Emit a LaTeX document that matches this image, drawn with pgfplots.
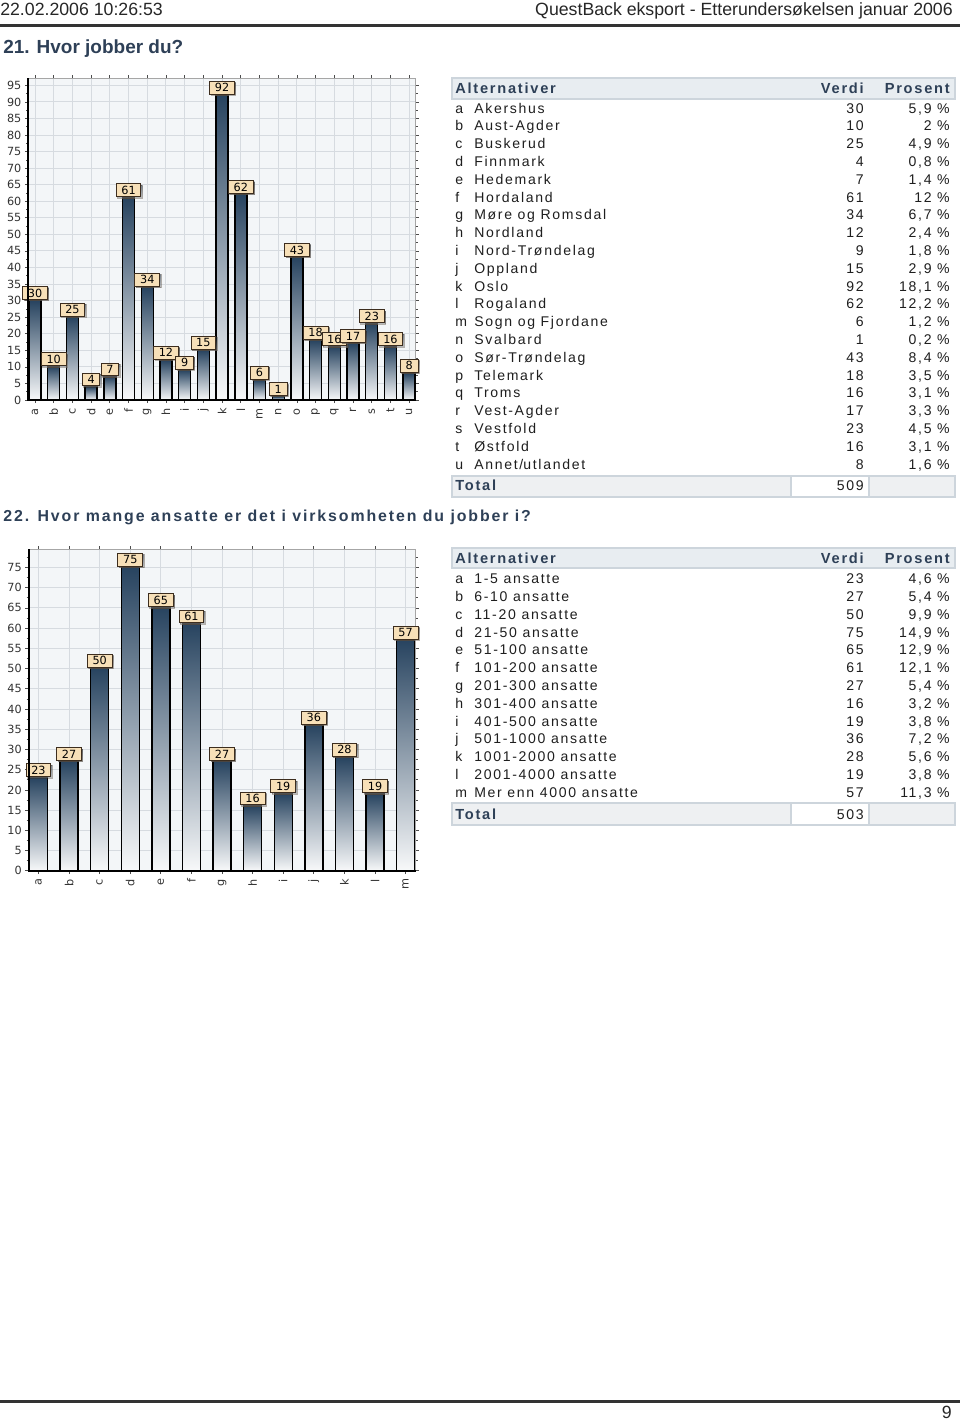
\documentclass[border=0pt]{standalone}
\usepackage{pgfplots}
\pgfplotsset{compat=1.18}
\usepackage{fontspec}
\setmainfont{Liberation Sans}
\newfontfamily\wide[LetterSpace=12]{Liberation Sans}
\newfontfamily\chartfont{DejaVu Sans}
\usetikzlibrary{shadows}
\definecolor{plotbg}{RGB}{243,246,248}
\definecolor{gridc}{RGB}{214,219,224}
\definecolor{bartop}{RGB}{40,68,96}
\definecolor{barbot}{RGB}{248,249,250}
\definecolor{labelfill}{RGB}{247,224,184}
\definecolor{labeldraw}{RGB}{60,45,30}
\definecolor{titlec}{RGB}{46,64,87}
\definecolor{headfill}{RGB}{232,237,241}
\definecolor{headdraw}{RGB}{205,213,220}
\definecolor{totfill}{RGB}{238,240,242}
\definecolor{txt}{RGB}{30,30,30}
\newcommand\lbl{\chartfont\fontsize{8}{9.5}\selectfont}
\newcommand\hd{\wide\bfseries\fontsize{10.4}{12}\selectfont}

\pgfplotsset{qb/.style={
  scale only axis, height=80.4mm, ybar, ymin=0,
  axis background/.style={fill=plotbg},
  grid=major, grid style={gridc, line width=0.7pt},
  axis line style={black!35, line width=0.8pt},
  tick align=outside, major tick length=0.8mm, minor tick length=0.5mm,
  tick style={black!70, line width=0.5pt},
  ytick distance=5, minor y tick num=1,
  /pgf/number format/assume math mode=true,
  yticklabel style={font=\lbl, text=black!80, xshift=0.3mm},
  xticklabel style={font=\lbl, text=black!80, rotate=90, anchor=east},
  clip=false, nodes near coords,
  every node near coord/.append style={font=\lbl, text=black, fill=labelfill,
    draw=labeldraw, line width=0.6pt, inner xsep=1.3mm, inner ysep=0.55mm,
    anchor=south, yshift=0.2mm,
    drop shadow={shadow xshift=0.35mm, shadow yshift=-0.35mm, fill=black, opacity=0.35}},
  after end axis/.code={\draw[black, line width=1.2pt]
    (rel axis cs:0,1) -- (rel axis cs:0,0) -- (rel axis cs:1,0);},
},
qbar/.style={draw=black, line width=1pt, top color=bartop, bottom color=barbot, bar shift=0pt}}

\begin{document}
\begin{tikzpicture}[x=0.25mm,y=-0.25mm]
\useasboundingbox (0,0) rectangle (960,1421);

% page header
\node[anchor=base west, inner sep=0, text=black!85, font=\fontsize{12.6}{14}\selectfont] at (0,15) {22.02.2006 10:26:53};
\node[anchor=base east, inner sep=0, text=black!85, font=\fontsize{12.6}{14}\selectfont] at (953,15) {QuestBack eksport - Etterundersøkelsen januar 2006};
\draw[black!80, line width=0.75mm] (0,25.5) -- (960,25.5);
\node[anchor=base west, inner sep=0, text=titlec, font=\bfseries\fontsize{13.5}{16}\selectfont] at (3,53) {21. Hvor jobber du?};

% chart 21
\begin{axis}[qb, at={(7.08mm,-100mm)}, anchor=south west,
  width=96.8mm, ymax=97.1, xmin=-0.358, xmax=20.34, bar width=3mm,
  xtick={0,...,20},
  xticklabels={a,b,c,d,e,f,g,h,i,j,k,l,m,n,o,p,q,r,s,t,u}]
\addplot[qbar] coordinates {(0,30)};
\addplot[qbar] coordinates {(1,10)};
\addplot[qbar] coordinates {(2,25)};
\addplot[qbar] coordinates {(3,4)};
\addplot[qbar] coordinates {(4,7)};
\addplot[qbar] coordinates {(5,61)};
\addplot[qbar] coordinates {(6,34)};
\addplot[qbar] coordinates {(7,12)};
\addplot[qbar] coordinates {(8,9)};
\addplot[qbar] coordinates {(9,15)};
\addplot[qbar] coordinates {(10,92)};
\addplot[qbar] coordinates {(11,62)};
\addplot[qbar] coordinates {(12,6)};
\addplot[qbar] coordinates {(13,1)};
\addplot[qbar] coordinates {(14,43)};
\addplot[qbar] coordinates {(15,18)};
\addplot[qbar] coordinates {(16,16)};
\addplot[qbar] coordinates {(17,17)};
\addplot[qbar] coordinates {(18,23)};
\addplot[qbar] coordinates {(19,16)};
\addplot[qbar] coordinates {(20,8)};
\end{axis}

% table 21
\draw[headdraw, fill=headfill, line width=1.2pt] (452,78) rectangle (955,99);
\node[anchor=base west, inner sep=0, text=titlec, font=\hd] at (455,93) {Alternativer};
\node[anchor=base east, inner sep=0, text=titlec, font=\hd] at (864,93) {Verdi};
\node[anchor=base east, inner sep=0, text=titlec, font=\hd] at (950,93) {Prosent};
\foreach \l/\n/\v/\p [count=\i from 0] in {a/Akershus/30/{5,9}, b/Aust-Agder/10/2,
  c/Buskerud/25/{4,9}, d/Finnmark/4/{0,8}, e/Hedemark/7/{1,4}, f/Hordaland/61/12,
  g/Møre og Romsdal/34/{6,7}, h/Nordland/12/{2,4}, i/Nord-Trøndelag/9/{1,8},
  j/Oppland/15/{2,9}, k/Oslo/92/{18,1}, l/Rogaland/62/{12,2},
  m/Sogn og Fjordane/6/{1,2}, n/Svalbard/1/{0,2}, o/Sør-Trøndelag/43/{8,4},
  p/Telemark/18/{3,5}, q/Troms/16/{3,1}, r/Vest-Agder/17/{3,3},
  s/Vestfold/23/{4,5}, t/Østfold/16/{3,1}, u/Annet\slash utlandet/8/{1,6}}{
  \node[anchor=base west, inner sep=0, text=txt, font=\wide] at (455,{113+17.8*\i}) {\l};
  \node[anchor=base west, inner sep=0, text=txt, font=\wide] at (474,{113+17.8*\i}) {\n};
  \node[anchor=base east, inner sep=0, text=txt, font=\wide] at (864,{113+17.8*\i}) {\v};
  \node[anchor=base east, inner sep=0, text=txt, font=\wide] at (950,{113+17.8*\i}) {\p\ \%};
}
\draw[headdraw, fill=totfill, line width=1.2pt] (452,476) rectangle (955,497);
\draw[headdraw, fill=white, line width=1.2pt] (791,476) rectangle (869,497);
\node[anchor=base west, inner sep=0, text=titlec, font=\hd] at (455,490) {Total};
\node[anchor=base east, inner sep=0, text=txt, font=\wide] at (864,490) {509};

% question 22
\node[anchor=base west, inner sep=0, text=titlec, font=\wide\bfseries\fontsize{11.3}{13}\selectfont] at (3,521) {22. Hvor mange ansatte er det i virksomheten du jobber i?};

\begin{axis}[qb, at={(7.17mm,-217.7mm)}, anchor=south west,
  width=96.75mm, ymax=79.5, xmin=-0.32, xmax=12.33, bar width=4.5mm,
  xtick={0,...,12},
  xticklabels={a,b,c,d,e,f,g,h,i,j,k,l,m}]
\addplot[qbar] coordinates {(0,23)};
\addplot[qbar] coordinates {(1,27)};
\addplot[qbar] coordinates {(2,50)};
\addplot[qbar] coordinates {(3,75)};
\addplot[qbar] coordinates {(4,65)};
\addplot[qbar] coordinates {(5,61)};
\addplot[qbar] coordinates {(6,27)};
\addplot[qbar] coordinates {(7,16)};
\addplot[qbar] coordinates {(8,19)};
\addplot[qbar] coordinates {(9,36)};
\addplot[qbar] coordinates {(10,28)};
\addplot[qbar] coordinates {(11,19)};
\addplot[qbar] coordinates {(12,57)};
\end{axis}

% table 22
\draw[headdraw, fill=headfill, line width=1.2pt] (452,548) rectangle (955,568);
\node[anchor=base west, inner sep=0, text=titlec, font=\hd] at (455,563) {Alternativer};
\node[anchor=base east, inner sep=0, text=titlec, font=\hd] at (864,563) {Verdi};
\node[anchor=base east, inner sep=0, text=titlec, font=\hd] at (950,563) {Prosent};
\foreach \l/\n/\v/\p [count=\i from 0] in {a/1-5 ansatte/23/{4,6}, b/6-10 ansatte/27/{5,4},
  c/11-20 ansatte/50/{9,9}, d/21-50 ansatte/75/{14,9}, e/51-100 ansatte/65/{12,9},
  f/101-200 ansatte/61/{12,1}, g/201-300 ansatte/27/{5,4}, h/301-400 ansatte/16/{3,2},
  i/401-500 ansatte/19/{3,8}, j/501-1000 ansatte/36/{7,2}, k/1001-2000 ansatte/28/{5,6},
  l/2001-4000 ansatte/19/{3,8}, m/Mer enn 4000 ansatte/57/{11,3}}{
  \node[anchor=base west, inner sep=0, text=txt, font=\wide] at (455,{583.5+17.83*\i}) {\l};
  \node[anchor=base west, inner sep=0, text=txt, font=\wide] at (474,{583.5+17.83*\i}) {\n};
  \node[anchor=base east, inner sep=0, text=txt, font=\wide] at (864,{583.5+17.83*\i}) {\v};
  \node[anchor=base east, inner sep=0, text=txt, font=\wide] at (950,{583.5+17.83*\i}) {\p\ \%};
}
\draw[headdraw, fill=totfill, line width=1.2pt] (452,803) rectangle (955,825);
\draw[headdraw, fill=white, line width=1.2pt] (791,803) rectangle (869,825);
\node[anchor=base west, inner sep=0, text=titlec, font=\hd] at (455,819) {Total};
\node[anchor=base east, inner sep=0, text=txt, font=\wide] at (864,819) {503};

% page footer
\draw[black!80, line width=0.6mm] (0,1401.5) -- (960,1401.5);
\node[anchor=base east, inner sep=0, text=black!85, font=\fontsize{12.6}{14}\selectfont] at (952,1418) {9};
\end{tikzpicture}
\end{document}
